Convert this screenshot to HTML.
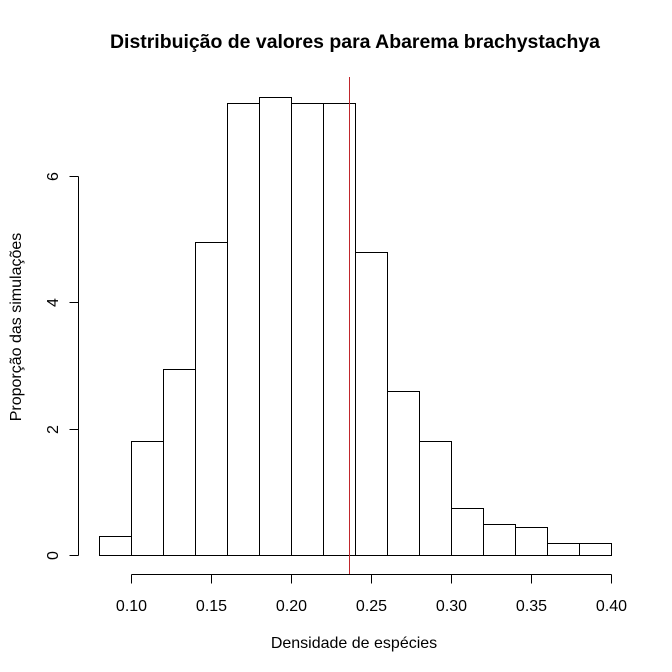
<!DOCTYPE html>
<html>
<head>
<meta charset="utf-8">
<style>
html,body{margin:0;padding:0;background:#fff;}
svg{display:block;}
text{font-family:"Liberation Sans",Arial,sans-serif;fill:#000;}
</style>
</head>
<body>
<svg width="672" height="672" viewBox="0 0 672 672" xmlns="http://www.w3.org/2000/svg">
<rect x="0" y="0" width="672" height="672" fill="#fff"/>
<text x="110" y="48" font-size="19" font-weight="bold" textLength="490" lengthAdjust="spacingAndGlyphs">Distribuição de valores para Abarema brachystachya</text>
<g fill="#fff" stroke="#000" stroke-width="1" shape-rendering="crispEdges">
<rect x="99.5" y="536.5" width="32" height="19"/>
<rect x="131.5" y="441.5" width="32" height="114"/>
<rect x="163.5" y="369.5" width="32" height="186"/>
<rect x="195.5" y="242.5" width="32" height="313"/>
<rect x="227.5" y="103.5" width="32" height="452"/>
<rect x="259.5" y="97.5" width="32" height="458"/>
<rect x="291.5" y="103.5" width="32" height="452"/>
<rect x="323.5" y="103.5" width="32" height="452"/>
<rect x="355.5" y="252.5" width="32" height="303"/>
<rect x="387.5" y="391.5" width="32" height="164"/>
<rect x="419.5" y="441.5" width="32" height="114"/>
<rect x="451.5" y="508.5" width="32" height="47"/>
<rect x="483.5" y="524.5" width="32" height="31"/>
<rect x="515.5" y="527.5" width="32" height="28"/>
<rect x="547.5" y="543.5" width="32" height="12"/>
<rect x="579.5" y="543.5" width="32" height="12"/>
</g>
<line x1="349.5" y1="77" x2="349.5" y2="575" stroke="#c0262c" stroke-width="1" shape-rendering="crispEdges"/>
<g stroke="#000" stroke-width="1" fill="none" shape-rendering="crispEdges">
<line x1="131.5" y1="574.5" x2="611.5" y2="574.5"/>
<line x1="131.5" y1="574.5" x2="131.5" y2="583.5"/>
<line x1="211.5" y1="574.5" x2="211.5" y2="583.5"/>
<line x1="291.5" y1="574.5" x2="291.5" y2="583.5"/>
<line x1="371.5" y1="574.5" x2="371.5" y2="583.5"/>
<line x1="451.5" y1="574.5" x2="451.5" y2="583.5"/>
<line x1="531.5" y1="574.5" x2="531.5" y2="583.5"/>
<line x1="611.5" y1="574.5" x2="611.5" y2="583.5"/>
<line x1="78.5" y1="176.5" x2="78.5" y2="555.5"/>
<line x1="69.5" y1="555.5" x2="78.5" y2="555.5"/>
<line x1="69.5" y1="429.5" x2="78.5" y2="429.5"/>
<line x1="69.5" y1="302.5" x2="78.5" y2="302.5"/>
<line x1="69.5" y1="176.5" x2="78.5" y2="176.5"/>
</g>
<g font-size="16" text-anchor="middle">
<text x="131.5" y="611">0.10</text>
<text x="211.5" y="611">0.15</text>
<text x="291.5" y="611">0.20</text>
<text x="371.5" y="611">0.25</text>
<text x="451.5" y="611">0.30</text>
<text x="531.5" y="611">0.35</text>
<text x="611.5" y="611">0.40</text>
<text transform="translate(58,555.5) rotate(-90)">0</text>
<text transform="translate(58,429.5) rotate(-90)">2</text>
<text transform="translate(58,302.5) rotate(-90)">4</text>
<text transform="translate(58,176.5) rotate(-90)">6</text>
<text x="354" y="648">Densidade de espécies</text>
<text transform="translate(21,327) rotate(-90)">Proporção das simulações</text>
</g>
</svg>
</body>
</html>
